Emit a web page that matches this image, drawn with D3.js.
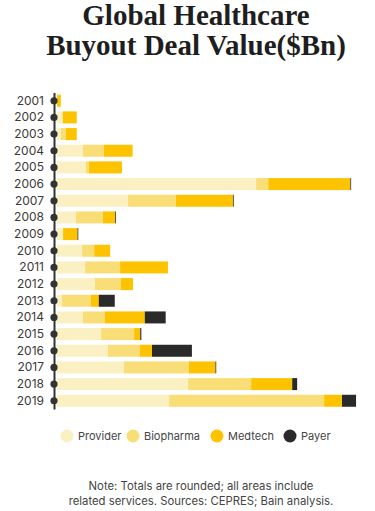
<!DOCTYPE html>
<html><head><meta charset="utf-8">
<script src="https://cdn.jsdelivr.net/npm/d3@7"></script>
<style>
html,body{margin:0;padding:0;background:#fff;}
svg{display:block;}
</style></head>
<body>
<svg id="chart" width="375" height="511"></svg>
<script>
const years = ["2001","2002","2003","2004","2005","2006","2007","2008","2009","2010","2011","2012","2013","2014","2015","2016","2017","2018","2019"];
const provider  = [0.0, 1.5, 1.0, 6.8, 7.6, 52.4, 18.7, 5.0, 1.6, 6.6, 7.4, 10.0, 1.3, 6.8, 11.6, 13.4, 17.6, 34.5, 29.5];
const biopharma = [0.0, 0.0, 1.3, 5.5, 0.8, 3.2, 12.6, 7.1, 0.0, 3.2, 9.2, 6.8, 7.6, 5.8, 8.7, 8.4, 17.1, 16.6, 40.8];
const medtech   = [1.0, 3.7, 2.9, 7.6, 8.7, 21.6, 15.0, 3.2, 3.8, 4.2, 12.6, 3.2, 2.1, 10.5, 1.6, 3.2, 7.0, 10.8, 4.7];
const payer     = [0.0, 0.0, 0.0, 0.0, 0.0, 0.2, 0.2, 0.2, 0.2, 0.0, 0.0, 0.0, 4.2, 5.5, 0.3, 10.5, 0.2, 1.3, 3.7];
const seriesNames = ["Provider","Biopharma","Medtech","Payer"];
const seriesColors = ["#FBF0C2","#F9DE78","#FDC300","#2A2A2A"];
const titleLines = ["Global Healthcare","Buyout Deal Value($Bn)"];
const noteLines = ["Note: Totals are rounded; all areas include","related services. Sources: CEPRES; Bain analysis."];

const keys = ["provider","biopharma","medtech","payer"];
const table = years.map((y,i)=>({year:y, provider:provider[i], biopharma:biopharma[i], medtech:medtech[i], payer:payer[i]}));
const stacked = d3.stack().keys(keys)(table);

const svg = d3.select("#chart");

// Title
svg.append("g").selectAll("text").data(titleLines).join("text")
  .attr("x", 196).attr("y", (d,i)=>25 + i*30)
  .attr("text-anchor","middle")
  .style("font-family","'Liberation Serif','DejaVu Serif',serif")
  .style("font-weight","bold")
  .style("font-size","29px")
  .style("fill","#1e1e1e")
  .text(d=>d);

const x = d3.scaleLinear().domain([0, 80]).range([57, 361]);
const y = d3.scaleBand().domain(years).range([92.4, 409.1]).paddingInner(0.28).paddingOuter(0.14);

// bars
const g = svg.append("g");
g.selectAll("g.layer").data(stacked).join("g").attr("class","layer")
  .attr("fill",(d,i)=>seriesColors[i])
  .selectAll("rect").data(d=>d).join("rect")
  .attr("x", d=>x(d[0]))
  .attr("y", d=>y(d.data.year))
  .attr("width", d=>Math.max(0, x(d[1]) - x(d[0])))
  .attr("height", y.bandwidth());

// axis
const axisG = svg.append("g").attr("transform","translate(54,0)")
  .call(d3.axisLeft(y).tickSize(0).tickPadding(10));
axisG.select(".domain").attr("stroke","#333").attr("stroke-width",2);
axisG.selectAll(".tick text")
  .style("font-family","Inter, 'Noto Sans', sans-serif")
  .style("font-size","12px")
  .style("fill","#3a3a3a");
axisG.selectAll(".tick").append("circle").attr("r",3.6).attr("fill","#333");

// legend
const legendX = [67, 133, 217, 290];
const lg = svg.append("g").selectAll("g").data(seriesNames).join("g")
  .attr("transform",(d,i)=>`translate(${legendX[i]},436)`);
lg.append("circle").attr("r",6.5).attr("fill",(d,i)=>seriesColors[i]);
lg.append("text").attr("x",11).attr("dy","0.35em")
  .style("font-family","Inter, 'Noto Sans', sans-serif")
  .style("font-size","11px").style("fill","#444").text(d=>d);

// note
svg.append("g").selectAll("text").data(noteLines).join("text")
  .attr("x", 201).attr("y",(d,i)=>490 + i*14.5)
  .attr("text-anchor","middle")
  .style("font-family","Inter, 'Noto Sans', sans-serif")
  .style("font-size","11.3px").style("fill","#444")
  .text(d=>d);
</script>
</body></html>
